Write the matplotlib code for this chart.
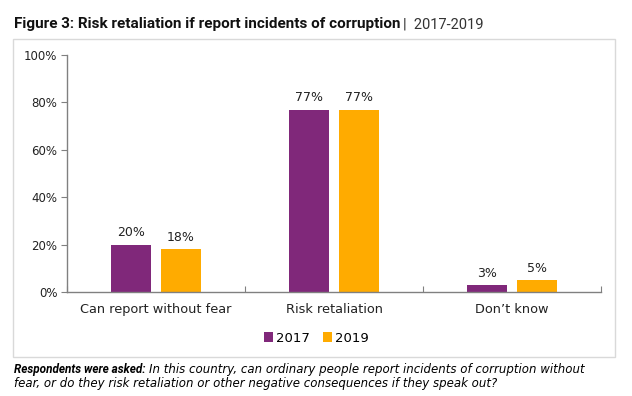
import matplotlib
matplotlib.use('Agg')
import numpy as np
import matplotlib.pyplot as plt
from matplotlib.patches import Rectangle

# Data
categories = ['Can report without fear', 'Risk retaliation', 'Don\u2019t know']
years = ['2017', '2019']
values2017 = [20, 77, 3]
values2019 = [18, 77, 5]
colors = ['#80287A', '#FFAB00']

plt.rcParams['font.family'] = ['DejaVu Sans']

W, H = 632, 396
fig = plt.figure(figsize=(W / 100, H / 100), dpi=100)

# Light frame around chart
fig.patches.append(Rectangle((13 / W, 1 - 357 / H), 602 / W, 318 / H,
                             transform=fig.transFigure, fill=False,
                             edgecolor='#D9D9D9', linewidth=1.0))

ax = fig.add_axes([67 / W, 1 - 292 / H, 534 / W, 237 / H])

x = np.arange(len(categories))
w = 0.225
off = 0.14
for i, (vals, yr) in enumerate(zip([values2017, values2019], years)):
    pos = x + (off if i else -off)
    bars = ax.bar(pos, vals, w, color=colors[i], label=yr)
    for b, v in zip(bars, vals):
        ax.text(b.get_x() + b.get_width() / 2, v + 2.2, f'{v}%', ha='center', va='bottom',
                fontsize=9, color='#222222')

ax.set_xlim(-0.5, 2.5)
ax.set_ylim(0, 100)
ax.set_yticks(range(0, 101, 20))
ax.set_yticklabels([f'{t}%' for t in range(0, 101, 20)], fontsize=8.5, color='#222222')
ax.set_xticks([-0.5, 0.5, 1.5, 2.5], minor=False)
ax.set_xticklabels([])
ax.set_xticks(x, minor=True)
ax.set_xticklabels(categories, minor=True, fontsize=9.3, color='#222222')
ax.tick_params(axis='x', which='minor', length=0, pad=8)
ax.tick_params(axis='x', which='major', length=4, direction='in', color='#808080')
ax.tick_params(axis='y', length=4, color='#808080', pad=3)
for s in ['top', 'right']:
    ax.spines[s].set_visible(False)
for s in ['left', 'bottom']:
    ax.spines[s].set_color('#808080')
    ax.spines[s].set_linewidth(1.0)

ax.legend(loc='center', bbox_to_anchor=(316 / W, 1 - 338 / H), bbox_transform=fig.transFigure,
          ncol=2, frameon=False, fontsize=9.5, handlelength=0.7, handleheight=0.7,
          handletextpad=0.2, columnspacing=1.0)

# Title
t1 = fig.text(14 / W, 1 - 24 / H, 'Figure 3: Risk retaliation if report incidents of corruption',
              fontsize=11, fontweight='bold', family='Roboto', va='center', ha='left',
              color='#111111')
fig.canvas.draw()
r = fig.canvas.get_renderer()
bb = t1.get_window_extent(r)
fig.text(bb.x1 / W + 0.004, 1 - 24 / H, '|  2017-2019', fontsize=10.5, family='Roboto',
         va='center', ha='left', color='#333333')

# Footnote
f1 = fig.text(14 / W, 1 - 370 / H, 'Respondents were asked:', fontsize=8.5, fontweight='bold',
              family='Roboto', style='italic', va='center', ha='left')
bb = f1.get_window_extent(r)
fig.text(bb.x1 / W + 0.005, 1 - 370 / H,
         'In this country, can ordinary people report incidents of corruption without',
         fontsize=8.5, style='italic', va='center', ha='left')
fig.text(14 / W, 1 - 383 / H,
         'fear, or do they risk retaliation or other negative consequences if they speak out?',
         fontsize=8.5, style='italic', va='center', ha='left')

fig.savefig('out.png', dpi=100)
